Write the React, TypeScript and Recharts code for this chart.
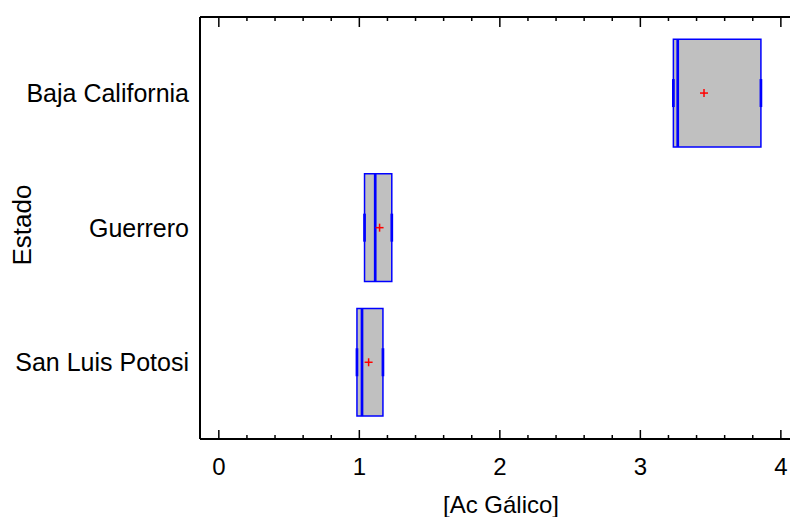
import {
  ScatterChart,
  Scatter,
  XAxis,
  YAxis,
  ReferenceArea,
  ReferenceLine,
} from 'recharts';

const STATES = ['Baja California', 'Guerrero', 'San Luis Potosi'];
const Q1 = [3.235, 1.037, 0.983];
const MEDIANS = [3.266, 1.113, 1.019];
const Q3 = [3.858, 1.231, 1.168];
const MINS = [3.235, 1.037, 0.983];
const MAXS = [3.858, 1.231, 1.168];
const MEANS = [3.453, 1.144, 1.066];

const X_TICKS = [
  0, 0.2, 0.4, 0.6, 0.8, 1, 1.2, 1.4, 1.6, 1.8, 2, 2.2, 2.4, 2.6, 2.8,
  3, 3.2, 3.4, 3.6, 3.8, 4,
];
const Y_TICKS = [1, 2, 3];

const FONT = 'Arial, "Liberation Sans", sans-serif';
const BLUE = '#0000ff';
const BOX_FILL = '#c0c0c0';
const HALF_BOX = 0.4;
const HALF_STUB = 0.104;

const meanPoints = MEANS.map((m, i) => ({ x: m, y: i + 1 }));

const isMajor = (v: number) => Math.abs(v - Math.round(v)) < 1e-6;

// inward tick marks, labels only on integer values
function BottomTick({ x, y, payload }: any) {
  const v = payload.value as number;
  const major = isMajor(v);
  return (
    <g>
      <line x1={x} x2={x} y1={y} y2={y - (major ? 9 : 4)} stroke="#000" strokeWidth={1.5} />
      {major && (
        <text x={x} y={y + 27} textAnchor="middle" dominantBaseline="central" fontSize={24} fontFamily={FONT} fill="#000">
          {Math.round(v)}
        </text>
      )}
    </g>
  );
}

function TopTick({ x, y, payload }: any) {
  const major = isMajor(payload.value as number);
  return <line x1={x} x2={x} y1={y} y2={y + (major ? 10 : 4)} stroke="#000" strokeWidth={1.5} />;
}

function StateTick({ x, y, payload }: any) {
  return (
    <text x={x} y={y} textAnchor="end" dominantBaseline="central" fontSize={25} fontFamily={FONT} fill="#000">
      {STATES[payload.value - 1]}
    </text>
  );
}

function MeanCross({ cx, cy }: any) {
  if (cx == null || cy == null) return null;
  return (
    <g stroke="#ff0000" strokeWidth={1.5}>
      <line x1={cx - 4} x2={cx + 4} y1={cy} y2={cy} />
      <line x1={cx} x2={cx} y1={cy - 4} y2={cy + 4} />
    </g>
  );
}

export default function App() {
  return (
    <div style={{ position: 'absolute', left: 0, top: 0, width: 790, height: 517, background: '#fff' }}>
      <ScatterChart width={790} height={517} margin={{ top: 16, right: 0, bottom: 0, left: 0 }}>
        <XAxis
          xAxisId="b"
          type="number"
          dataKey="x"
          domain={[-0.134, 4.065]}
          allowDataOverflow
          ticks={X_TICKS}
          interval={0}
          height={78}
          tickSize={0}
          tickMargin={0}
          tickLine={false}
          tick={<BottomTick />}
          axisLine={{ stroke: '#000', strokeWidth: 2 }}
          label={({ viewBox }: any) => (
            <text
              x={viewBox.x + viewBox.width / 2 + 6}
              y={viewBox.y + 65}
              textAnchor="middle"
              dominantBaseline="central"
              fontSize={24}
              fontFamily={FONT}
              fill="#000"
            >
              [Ac Gálico]
            </text>
          )}
        />
        <XAxis
          xAxisId="t"
          orientation="top"
          type="number"
          dataKey="x"
          domain={[-0.134, 4.065]}
          allowDataOverflow
          ticks={X_TICKS}
          interval={0}
          height={1}
          tickSize={0}
          tickMargin={0}
          tickLine={false}
          tick={<TopTick />}
          axisLine={{ stroke: '#000', strokeWidth: 2 }}
        />
        <YAxis
          yAxisId="s"
          type="number"
          dataKey="y"
          domain={[0.435, 3.57]}
          reversed
          allowDataOverflow
          ticks={Y_TICKS}
          interval={0}
          width={200}
          tickSize={0}
          tickMargin={11}
          tickLine={false}
          tick={<StateTick />}
          axisLine={{ stroke: '#000', strokeWidth: 2 }}
          label={({ viewBox }: any) => {
            const cx = viewBox.x + 22;
            const cy = viewBox.y + viewBox.height / 2 - 3;
            return (
              <text
                x={cx}
                y={cy}
                transform={`rotate(-90 ${cx} ${cy})`}
                textAnchor="middle"
                dominantBaseline="central"
                fontSize={26}
                fontFamily={FONT}
                fill="#000"
              >
                Estado
              </text>
            );
          }}
        />

        {STATES.map((s, i) => (
          <ReferenceArea
            key={`box-${s}`}
            xAxisId="b"
            yAxisId="s"
            x1={Q1[i]}
            x2={Q3[i]}
            y1={i + 1 - HALF_BOX}
            y2={i + 1 + HALF_BOX}
            fill={BOX_FILL}
            fillOpacity={1}
            stroke={BLUE}
            strokeWidth={1.5}
          />
        ))}
        {STATES.map((s, i) => (
          <ReferenceLine
            key={`med-${s}`}
            xAxisId="b"
            yAxisId="s"
            segment={[
              { x: MEDIANS[i], y: i + 1 - HALF_BOX },
              { x: MEDIANS[i], y: i + 1 + HALF_BOX },
            ]}
            stroke={BLUE}
            strokeWidth={2.7}
          />
        ))}
        {STATES.map((s, i) => (
          <ReferenceLine
            key={`wlo-${s}`}
            xAxisId="b"
            yAxisId="s"
            segment={[
              { x: MINS[i], y: i + 1 - HALF_STUB },
              { x: MINS[i], y: i + 1 + HALF_STUB },
            ]}
            stroke={BLUE}
            strokeWidth={2.7}
          />
        ))}
        {STATES.map((s, i) => (
          <ReferenceLine
            key={`whi-${s}`}
            xAxisId="b"
            yAxisId="s"
            segment={[
              { x: MAXS[i], y: i + 1 - HALF_STUB },
              { x: MAXS[i], y: i + 1 + HALF_STUB },
            ]}
            stroke={BLUE}
            strokeWidth={2.7}
          />
        ))}

        <Scatter
          xAxisId="b"
          yAxisId="s"
          data={meanPoints}
          shape={<MeanCross />}
          isAnimationActive={false}
        />
      </ScatterChart>
    </div>
  );
}
